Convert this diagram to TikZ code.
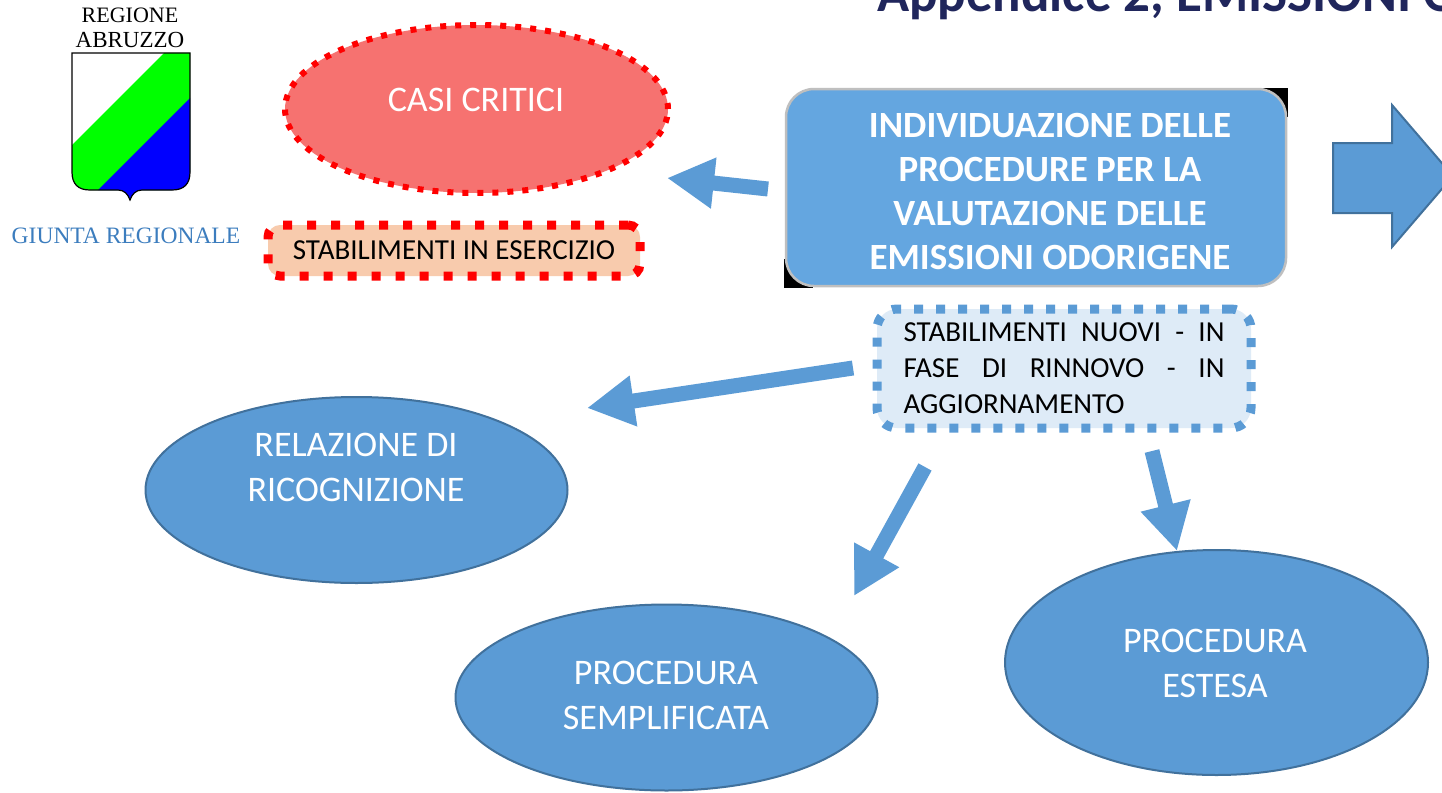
\documentclass[tikz,border=0pt]{standalone}
\usepackage{fontspec}
\setmainfont{Carlito}
\newfontfamily\logofont{Liberation Serif}
\usetikzlibrary{arrows.meta,shapes.geometric}

\definecolor{bubblefill}{RGB}{91,155,213}
\definecolor{bubbleline}{RGB}{65,113,156}
\definecolor{critfill}{RGB}{246,114,112}
\definecolor{peach}{RGB}{248,203,173}
\definecolor{paleblue}{RGB}{222,235,247}
\definecolor{boxfill}{RGB}{100,166,224}
\definecolor{navy}{RGB}{32,38,92}
\definecolor{giunta}{RGB}{60,125,190}
\definecolor{shieldgreen}{RGB}{0,255,0}
\definecolor{shieldblue}{RGB}{0,0,255}

\begin{document}
\begin{tikzpicture}
  [x=1pt,y=-1pt,every node/.style={inner sep=0pt},
   bubble/.style={ellipse,fill=bubblefill,draw=bubbleline,line width=2pt,minimum width=422pt,minimum height=186pt},
   bubbletext/.style={text=white,align=center,font=\fontsize{36}{45}\selectfont},
   critic/.style={ellipse,fill=critfill,draw=red,line width=6pt,dash pattern=on 6pt off 9pt,minimum width=383pt,minimum height=168pt},
   redbox/.style={rectangle,rounded corners=12pt,fill=peach,draw=red,line width=9pt,dash pattern=on 9pt off 15pt,minimum width=372pt,minimum height=51pt,font=\fontsize{29}{35}\selectfont},
   bluebox/.style={rectangle,rounded corners=20pt,fill=paleblue,draw=bubblefill,line width=9pt,dash pattern=on 9pt off 13pt,minimum width=374pt,minimum height=119pt,text width=321pt,align=justify,font=\fontsize{29}{36}\selectfont},
   mainbox/.style={rectangle,rounded corners=28pt,fill=boxfill,draw=black!25,line width=2.5pt,minimum width=500pt,minimum height=197pt},
   maintext/.style={text=white,align=center,font=\bfseries\fontsize{37}{44}\selectfont},
   flow/.style={draw=bubblefill,line width=15pt,-{Triangle[length=47pt,width=48pt]}},
   logotext/.style={font=\logofont\fontsize{22}{26}\selectfont}]
  \useasboundingbox (0,0) rectangle (1442,792);
  \fill[white] (0,0) rectangle (1442,792);
  \clip (0,0) rectangle (1442,792);

  % stemma
  \begin{scope}
    \clip (72,53) -- (190,53) -- (190,172) .. controls (190,184) and (184,190) .. (172,190) -- (142,190) .. controls (136,190) and (132,194) .. (130,200) .. controls (128,194) and (124,190) .. (118,190) -- (90,190) .. controls (78,190) and (72,184) .. (72,172) -- cycle;
    \fill[white] (60,40) rectangle (200,210);
    \fill[shieldgreen] (40,177) -- (200,17) -- (230,17) -- (230,230) -- (40,230) -- cycle;
    \fill[shieldblue] (60,228) -- (230,58) -- (230,230) -- cycle;
  \end{scope}
  \draw[line width=1.2pt] (72,53) -- (190,53) -- (190,172) .. controls (190,184) and (184,190) .. (172,190) -- (142,190) .. controls (136,190) and (132,194) .. (130,200) .. controls (128,194) and (124,190) .. (118,190) -- (90,190) .. controls (78,190) and (72,184) .. (72,172) -- cycle;
  \node[logotext] (reg) at (130,15) {REGIONE};
  \node[logotext,font=\logofont\fontsize{23}{26}\selectfont] (abr) at (130,40) {ABRUZZO};
  \node[logotext,text=giunta,font=\logofont\fontsize{23.5}{26}\selectfont] (giunta) at (126,236) {GIUNTA REGIONALE};

  \node[anchor=base west,text=navy,font=\bfseries\fontsize{53}{60}\selectfont] (titolo) at (877,12) {Appendice 2, EMISSIONI O};

  % casi critici
  \node[critic] (crit) at (476.5,109) {};
  \node[bubbletext] (critt) at (476,100) {CASI CRITICI};
  \node[redbox] (eser) at (454,250.5) {STABILIMENTI IN ESERCIZIO};

  % box centrale
  \fill[black] (1259,88) rectangle (1288,117);
  \fill[black] (784,259) rectangle (813,288);
  \node[mainbox] (proc) at (1036,187.5) {};
  \node[maintext] (proct) at (1050,191) {INDIVIDUAZIONE DELLE\\PROCEDURE PER LA\\VALUTAZIONE DELLE\\EMISSIONI ODORIGENE};
  \draw[fill=bubblefill,draw=bubbleline,line width=2pt] (1333,143) -- (1392,143) -- (1392,105) -- (1453,176) -- (1392,247) -- (1392,213) -- (1333,213) -- cycle;

  \node[bluebox] (nuovi) at (1064,368.5) {STABILIMENTI NUOVI - IN\linebreak FASE DI RINNOVO - IN\linebreak AGGIORNAMENTO};

  % procedure
  \node[bubble] (rel) at (356.5,490) {};
  \node[bubbletext] (relt) at (356,467.5) {RELAZIONE DI\\RICOGNIZIONE};
  \node[bubble] (sem) at (666.5,697.5) {};
  \node[bubbletext] (semt) at (666,695.5) {PROCEDURA\\SEMPLIFICATA};
  \node[bubble,minimum width=423pt,minimum height=225pt] (est) at (1216.5,662.5) {};
  \node[bubbletext] (estt) at (1215,663.5) {PROCEDURA\\ESTESA};

  \coordinate (f1a) at (768,189);  \coordinate (f1b) at (667,178);
  \coordinate (f2a) at (853,368);  \coordinate (f2b) at (587,408);
  \coordinate (f3a) at (925,467);  \coordinate (f3b) at (854,596);
  \coordinate (f4a) at (1152,451); \coordinate (f4b) at (1177,551);
\foreach \from/\to in
{f1a/f1b, f2a/f2b, f3a/f3b, f4a/f4b}
    \draw[flow] (\from) -- (\to);
\end{tikzpicture}
\end{document}
